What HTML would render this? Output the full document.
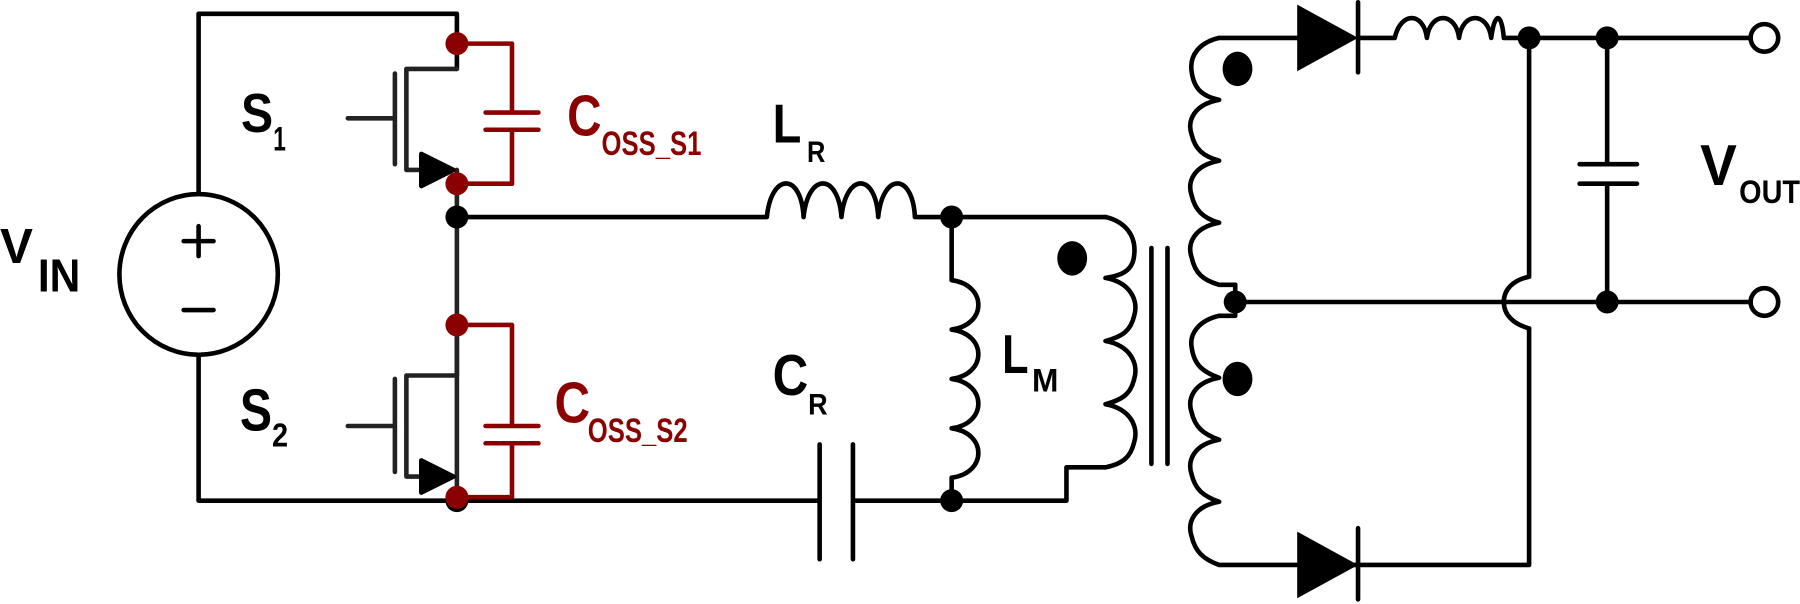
<!DOCTYPE html>
<html><head><style>
html,body{margin:0;padding:0;background:#fff;width:1800px;height:604px;overflow:hidden}
text{font-family:"Liberation Sans",sans-serif;font-weight:bold}
</style></head><body>
<svg width="1800" height="604" viewBox="0 0 1568 526" preserveAspectRatio="none" xmlns="http://www.w3.org/2000/svg">
<g fill="none" stroke="#000" stroke-width="4" stroke-linecap="round" stroke-linejoin="round">
<path d="M173 168V12H398V60"/>
<ellipse cx="173" cy="239" rx="69" ry="70"/>
<path d="M160 210H186M173 197V223M160 270H186"/>
<path d="M173 309V436H713"/>
<path d="M398 60H354V148H370M344 64V143M303 103H344M398 148V436" stroke="#222"/>
<polygon points="367,134 367,162 395,148" fill="#000"/>
<path d="M398 283V327H354V415H370M344 330V411M303 371H344" stroke="#222"/>
<polygon points="367,401 367,429 395,415" fill="#000"/>
<path d="M398 189H668C672 150 698 150 700 189C704 150 730 150 733 189C737 150 763 150 765 189C769 150 795 150 797 189H963"/>
<path d="M714 387V487M743 387V487M743 436H929V407H963"/>
<path d="M829 189V244C860 248 860 283 829 287C860 291 860 326 829 330C860 334 860 369 829 373C860 377 860 412 829 416V436"/>
<path d="M963 189C980 193 990 205 988 222C987 235 978 240 963 242C985 246 992 262 988 275C985 288 978 293 963 297C985 301 992 317 988 330C985 343 978 348 963 352C985 356 992 372 988 385C985 398 978 404 963 407"/>
<path d="M1003 216V404M1017 216V404"/>
<path d="M1062 33C1045 37 1036 48 1038 62C1040 78 1048 84 1062 87C1040 91 1034 105 1038 117C1041 130 1048 136 1062 140C1040 144 1034 158 1038 170C1041 183 1048 190 1062 194C1040 198 1034 212 1038 224C1041 238 1048 244 1062 248H1076"/>
<path d="M1076 275H1062C1045 279 1036 290 1038 302C1040 318 1048 324 1062 329C1040 333 1034 347 1038 359C1041 372 1048 378 1062 383C1040 387 1034 401 1038 413C1041 426 1048 432 1062 437C1040 441 1034 455 1038 467C1041 480 1048 487 1062 492H1332V286"/>
<path d="M1332 33V241C1318 244 1310 252 1310 263C1310 274 1318 282 1332 286"/>
<path d="M1076 248V275"/>
<path d="M1062 33H1130M1183 2V63M1183 460V522M1183 33H1215C1220 10 1240 10 1243 33C1246 10 1268 10 1271 33C1274 10 1296 10 1299 33C1302 10 1308 10 1310 33H1525"/>
<path d="M1076 263H1525"/>
<path d="M1400 33V143M1376 143H1426M1376 160H1426M1400 160V263"/>
<circle cx="1537" cy="33" r="12"/>
<circle cx="1537" cy="263" r="12"/>
</g>
<g fill="#000">
<polygon points="1130,4 1130,62 1183,33"/>
<polygon points="1130,463 1130,521 1183,492"/>
<circle cx="398" cy="189" r="10"/><circle cx="398" cy="436" r="10"/>
<circle cx="829" cy="189" r="10"/><circle cx="829" cy="436" r="10"/>
<circle cx="1332" cy="33" r="10"/><circle cx="1400" cy="33" r="10"/>
<circle cx="1400" cy="263" r="10"/><circle cx="1076" cy="263" r="10"/>
<ellipse cx="934" cy="225" rx="13" ry="15"/>
<ellipse cx="1078" cy="60" rx="13" ry="15"/>
<ellipse cx="1078" cy="330" rx="13" ry="15"/>
</g>
<g fill="none" stroke="#8b0000" stroke-width="4" stroke-linecap="round" stroke-linejoin="round">
<path d="M398 38H446V98M423 98H469M423 113H469M446 113V160H398"/>
<path d="M398 283H446V371M423 371H469M423 386H469M446 386V433H398"/>
</g>
<g fill="#8b0000">
<circle cx="398" cy="38" r="10"/><circle cx="398" cy="160" r="10"/>
<circle cx="398" cy="283" r="10"/><circle cx="398" cy="433" r="10"/>
</g>
<g>
<text x="0" y="229" font-size="43">V</text>
<text x="33" y="254" font-size="40" textLength="37" lengthAdjust="spacingAndGlyphs">IN</text>
<text x="1481" y="161" font-size="50" textLength="32" lengthAdjust="spacingAndGlyphs">V</text>
<text x="1515" y="177" font-size="28" textLength="53" lengthAdjust="spacingAndGlyphs">OUT</text>
<text x="673" y="124" font-size="48" textLength="25" lengthAdjust="spacingAndGlyphs">L</text>
<text x="703" y="141" font-size="26" textLength="16" lengthAdjust="spacingAndGlyphs">R</text>
<text x="873" y="325" font-size="48" textLength="23" lengthAdjust="spacingAndGlyphs">L</text>
<text x="899" y="341" font-size="28" textLength="23" lengthAdjust="spacingAndGlyphs">M</text>
<text x="673" y="344" font-size="50" textLength="31" lengthAdjust="spacingAndGlyphs">C</text>
<text x="704" y="361" font-size="26" textLength="17" lengthAdjust="spacingAndGlyphs">R</text>
<text x="210" y="115" font-size="48" textLength="28" lengthAdjust="spacingAndGlyphs">S</text>
<text x="238" y="131" font-size="30" textLength="11" lengthAdjust="spacingAndGlyphs">1</text>
<text x="209" y="375" font-size="52" textLength="28" lengthAdjust="spacingAndGlyphs">S</text>
<text x="237" y="389" font-size="29" textLength="14" lengthAdjust="spacingAndGlyphs">2</text>
<g fill="#8b0000">
<text x="494" y="118" font-size="50" textLength="30" lengthAdjust="spacingAndGlyphs">C</text>
<text x="524" y="135" font-size="30" textLength="87" lengthAdjust="spacingAndGlyphs">OSS_S1</text>
<text x="483" y="368" font-size="50" textLength="31" lengthAdjust="spacingAndGlyphs">C</text>
<text x="512" y="385" font-size="30" textLength="87" lengthAdjust="spacingAndGlyphs">OSS_S2</text>
</g>
</g>
</svg>
</body></html>
